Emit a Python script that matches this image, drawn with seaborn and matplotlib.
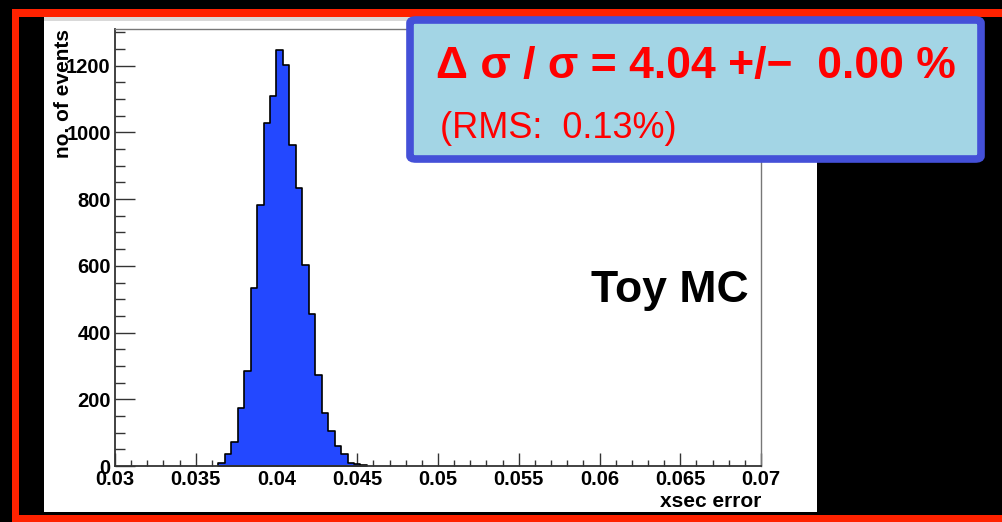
import matplotlib
matplotlib.use("Agg")
import matplotlib.pyplot as plt
from matplotlib.patches import Rectangle, FancyBboxPatch
from matplotlib.ticker import MultipleLocator
import numpy as np
import pandas as pd
import seaborn as sns

# histograma: bins de 0.0004 desde 0.0364
BIN_START = 0.0364
BIN_WIDTH = 0.0004
counts = [10, 35, 73, 174, 285, 534, 782, 1027, 1110, 1246, 1202, 961,
          833, 603, 455, 274, 159, 104, 59, 35, 10, 6, 3]

x_ticks = [0.03, 0.035, 0.04, 0.045, 0.05, 0.055, 0.06, 0.065, 0.07]
x_tick_labels = ["0.03", "0.035", "0.04", "0.045", "0.05", "0.055", "0.06", "0.065", "0.07"]
y_ticks = [0, 200, 400, 600, 800, 1000, 1200]
y_tick_labels = ["0", "200", "400", "600", "800", "1000", "1200"]

texto_delta = "Δ σ / σ = 4.04 +/−  0.00 %"
texto_rms = "(RMS:  0.13%)"
texto_toy = "Toy MC"

W, H = 1002, 522


def caja(x0, y0, x1, y1, color, z=-10):
    # rectangulo en pixeles (origen arriba a la izquierda)
    return Rectangle((x0 / W, 1 - y1 / H), (x1 - x0) / W, (y1 - y0) / H,
                     transform=fig.transFigure, facecolor=color,
                     edgecolor="none", zorder=z)


sns.set_theme(style="ticks")
plt.rcParams["font.family"] = ["Liberation Sans", "DejaVu Sans"]

fig = plt.figure(figsize=(W / 100, H / 100), dpi=100, facecolor="black")

# marco rojo, fondo negro y panel blanco
fig.patches.extend([
    caja(12, 9, W, H, "#ff2200"),
    caja(19, 17, W, 515, "black"),
    caja(44, 17, 817, 512, "white"),
    caja(44, 17, 817, 21, "#d9d9d9"),
])

ax = fig.add_axes([115 / W, (H - 466) / H, (761 - 115) / W, (466 - 29) / H])
ax.set_facecolor("white")

edges = BIN_START + BIN_WIDTH * np.arange(len(counts) + 1)
df = pd.DataFrame({"xsec": (edges[:-1] + edges[1:]) / 2, "n": counts})
sns.histplot(data=df, x="xsec", weights="n", bins=list(edges), element="step",
             fill=True, color="#2348ff", edgecolor="black", linewidth=1.2,
             alpha=1, ax=ax)

ax.set_xlim(0.03, 0.07)
ax.set_ylim(0, 1310)
ax.set_xticks(x_ticks)
ax.set_xticklabels(x_tick_labels)
ax.set_yticks(y_ticks)
ax.set_yticklabels(y_tick_labels)
ax.xaxis.set_minor_locator(MultipleLocator(0.001))
ax.yaxis.set_minor_locator(MultipleLocator(50))

ax.tick_params(axis="x", which="major", direction="in", length=9.5, width=1,
               labelsize=14.5, pad=3, colors="#333333", labelcolor="black")
ax.tick_params(axis="x", which="minor", direction="in", length=4.5, width=1,
               colors="#333333")
ax.tick_params(axis="y", which="major", direction="in", length=14.5, width=1,
               labelsize=14.5, pad=3, colors="#333333", labelcolor="black")
ax.tick_params(axis="y", which="minor", direction="in", length=7, width=1,
               colors="#333333")
for lab in ax.get_xticklabels() + ax.get_yticklabels():
    lab.set_fontweight("bold")

for lado in ["left", "bottom"]:
    ax.spines[lado].set_color("#333333")
    ax.spines[lado].set_linewidth(1.3)
for lado in ["top", "right"]:
    ax.spines[lado].set_visible(True)
    ax.spines[lado].set_color("#777777")
    ax.spines[lado].set_linewidth(1)

ax.set_ylabel("no. of events", loc="top", fontsize=15, fontweight="bold", color="black")
ax.yaxis.set_label_coords((73 - 115) / 646, 1.0)
ax.set_xlabel("xsec error", loc="right", fontsize=15, fontweight="bold", color="black")
ax.xaxis.set_label_coords(1.0, (466 - 492) / 437)

fig.text(591 / W, 1 - 302 / H, texto_toy, fontsize=32, fontweight="bold",
         color="black", va="baseline", ha="left")

# recuadro azul con el resultado
recuadro = FancyBboxPatch((410 / W, 1 - 159 / H), (981 - 410) / W, (159 - 20) / H,
                          boxstyle="round,pad=0,rounding_size=0.006",
                          transform=fig.transFigure, facecolor="#a3d5e5",
                          edgecolor="#4450d8", linewidth=5.5, zorder=5)
fig.patches.append(recuadro)
fig.text(436 / W, 1 - 78 / H, texto_delta, fontsize=32, fontweight="bold",
         color="#ff0000", va="baseline", ha="left", zorder=6)
fig.text(440 / W, 1 - 138 / H, texto_rms, fontsize=26, color="#ff0000",
         va="baseline", ha="left", zorder=6)

fig.savefig("out.png", dpi=100, facecolor="black")
